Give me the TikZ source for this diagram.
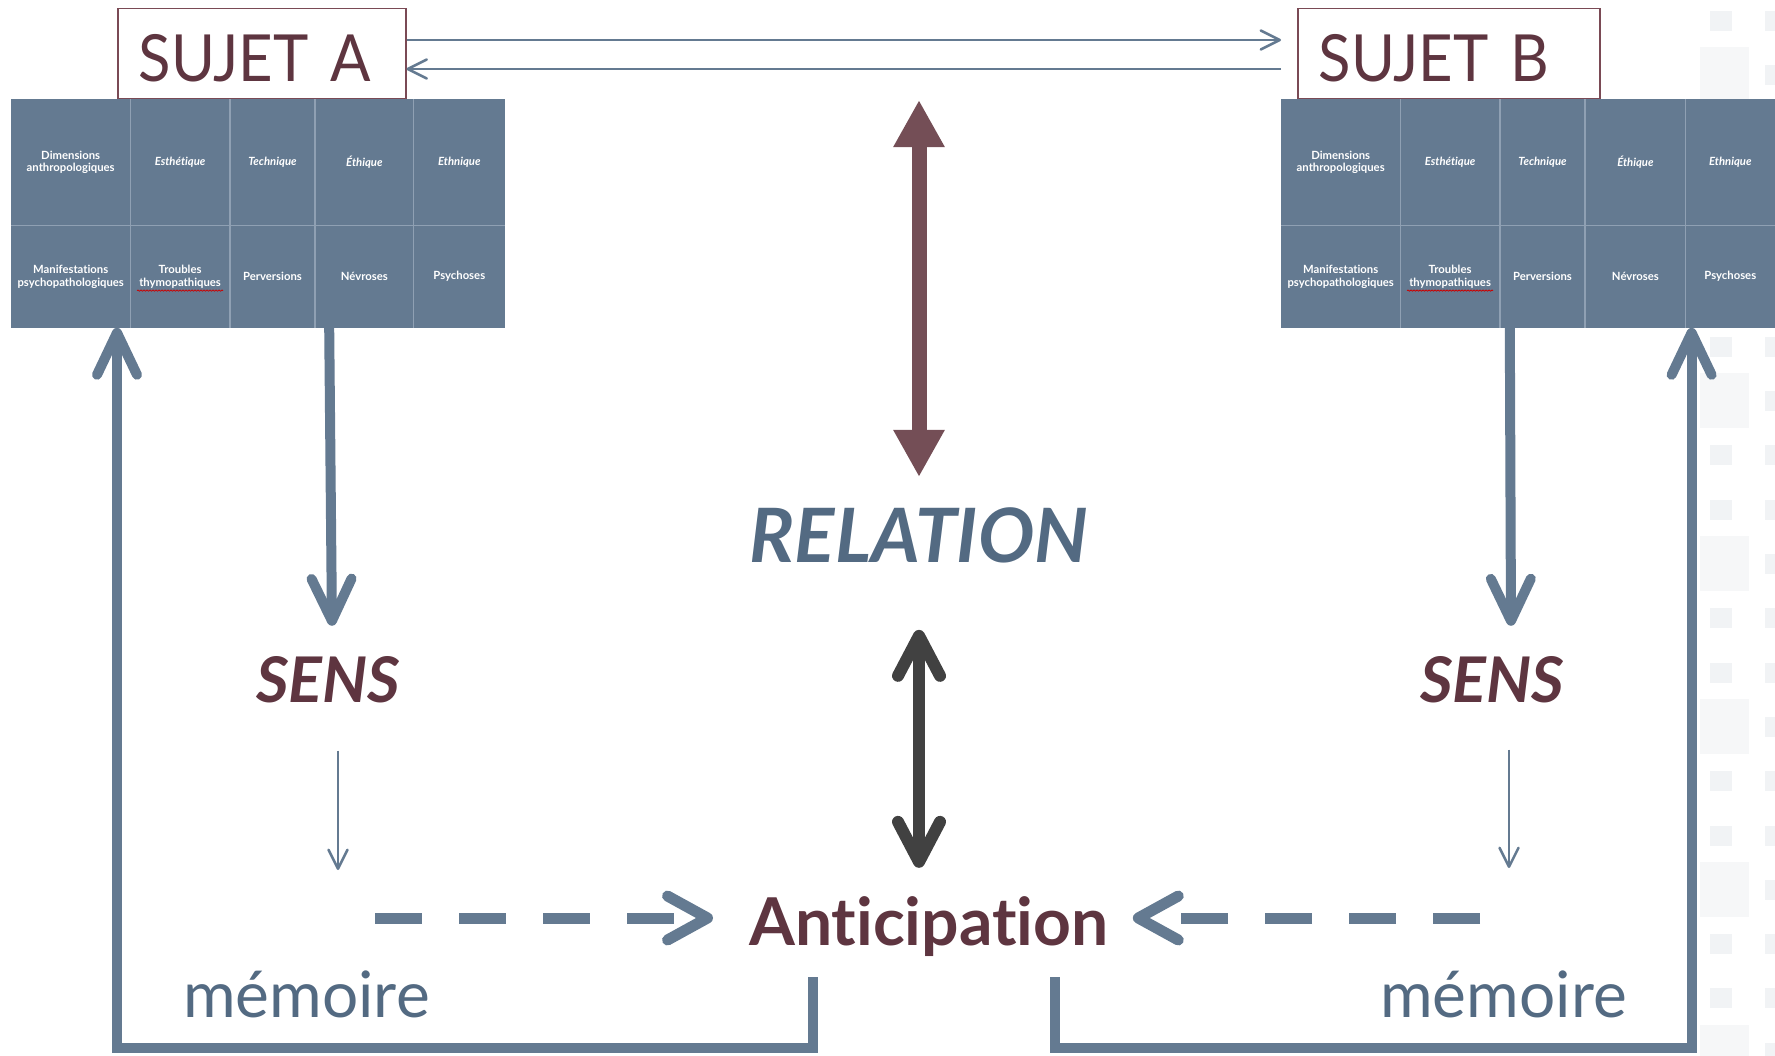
\documentclass[tikz,border=0pt]{standalone}
\usepackage{fontspec}
\setmainfont{Lato}[Ligatures=NoCommon]
\newfontfamily\subjfont{Lato}[FakeStretch=0.92]
\usetikzlibrary{positioning,arrows.meta,decorations.pathmorphing,calc}

\definecolor{slate}{HTML}{647A91}
\definecolor{slatedark}{HTML}{536A82}
\definecolor{slatelight}{HTML}{8FA0B3}
\definecolor{wine}{HTML}{5E3540}
\definecolor{wineline}{HTML}{7A4A55}
\definecolor{winearrow}{HTML}{744E56}
\definecolor{charcoal}{HTML}{414141}

\begin{document}
\begin{tikzpicture}[x=1pt, y=-1pt,
    cell/.style={rectangle, fill=slate, text=white, inner sep=0pt, align=center, minimum height=126pt, font=\fontsize{11.3}{12.5}\selectfont\bfseries},
    lowcell/.style={cell, minimum height=102pt},
    cellrule/.style={draw=slatelight, line width=1.5pt},
    subjectbox/.style={rectangle, draw=wineline, line width=1.5pt, text=wine, inner xsep=21pt, inner ysep=0pt, align=left, minimum height=90pt, text height=56pt, text depth=0pt, anchor=south west, font=\subjfont\fontsize{65}{70}\selectfont},
    keyword/.style={inner sep=0pt, anchor=base, text=wine, font=\fontsize{63}{70}\selectfont\bfseries\itshape},
    memlabel/.style={inner sep=0pt, anchor=base west, text=slatedark, font=\fontsize{64}{70}\selectfont},
    thinarrow/.style={draw=slate, line width=2.5pt, -{Straight Barb[length=19pt, width=19pt, round]}},
    bigarrow/.style={draw=slate, line width=10pt, -{Straight Barb[length=42pt, width=40pt, round]}},
    looparrow/.style={bigarrow, line join=miter},
    dasharrow/.style={draw=slate, line width=11pt, dash pattern=on 47pt off 37pt, -{Straight Barb[length=40pt, width=44pt, round]}},
    relarrow/.style={draw=winearrow, line width=15pt, {Triangle[length=47pt, width=48pt]}-{Triangle[length=47pt, width=48pt]}},
    linkarrow/.style={draw=charcoal, line width=12pt, {Straight Barb[length=40pt, width=42pt, round]}-{Straight Barb[length=40pt, width=42pt, round]}},
    spellmark/.style={draw=red!80!black, line width=0.8pt, decorate, decoration={snake, amplitude=0.6pt, segment length=3pt}},
    tile/.style={fill=slate!9},
    bigtile/.style={fill=slate!6}
  ]
  \useasboundingbox (0,0) rectangle (1775,1055);

  % faint squares along the right border
  \foreach \k in {0,...,19}
    \fill[tile] (1765,{11+54.3*\k}) rectangle (1775,{31+54.3*\k});
  \foreach \k in {1,4,...,19}
    \fill[bigtile] (1700,{-7+54.3*\k}) rectangle (1749,{48+54.3*\k});
  \foreach \k in {0,2,3,5,6,8,9,11,12,14,15,17,18}
    \fill[tile] (1710,{11+54.3*\k}) rectangle (1732,{31+54.3*\k});

  \node[subjectbox, text width=246pt] (tA) at (117,99) {SUJET A};
  \node[subjectbox, text width=260pt] (tB) at (1297,99) {SUJET B};

  % grid of subject A
  \node[cell, minimum width=119pt, anchor=north west] (A11) at (11,99) {Dimensions\\anthropologiques};
  \node[cell, minimum width=99pt, right=0pt of A11] (A12) {\itshape Esthétique};
  \node[cell, minimum width=85pt, right=0pt of A12] (A13) {\itshape Technique};
  \node[cell, minimum width=98pt, right=0pt of A13] (A14) {\itshape Éthique};
  \node[cell, minimum width=91pt, right=0pt of A14] (A15) {\itshape Ethnique};
  \node[lowcell, minimum width=119pt, below=0pt of A11] (A21) {Manifestations\\psychopathologiques};
  \node[lowcell, minimum width=99pt, below=0pt of A12] (A22) {Troubles\\thymopathiques};
  \node[lowcell, minimum width=85pt, below=0pt of A13] (A23) {Perversions};
  \node[lowcell, minimum width=98pt, below=0pt of A14] (A24) {Névroses};
  \node[lowcell, minimum width=91pt, below=0pt of A15] (A25) {Psychoses};

  % grid of subject B
  \node[cell, minimum width=119pt, anchor=north west] (B11) at (1281,99) {Dimensions\\anthropologiques};
  \node[cell, minimum width=99pt, right=0pt of B11] (B12) {\itshape Esthétique};
  \node[cell, minimum width=85pt, right=0pt of B12] (B13) {\itshape Technique};
  \node[cell, minimum width=100pt, right=0pt of B13] (B14) {\itshape Éthique};
  \node[cell, minimum width=89pt, right=0pt of B14] (B15) {\itshape Ethnique};
  \node[lowcell, minimum width=119pt, below=0pt of B11] (B21) {Manifestations\\psychopathologiques};
  \node[lowcell, minimum width=99pt, below=0pt of B12] (B22) {Troubles\\thymopathiques};
  \node[lowcell, minimum width=85pt, below=0pt of B13] (B23) {Perversions};
  \node[lowcell, minimum width=100pt, below=0pt of B14] (B24) {Névroses};
  \node[lowcell, minimum width=89pt, below=0pt of B15] (B25) {Psychoses};

  \foreach \t in {A,B} {
    \foreach \c in {1,...,4}
      \draw[cellrule] (\t1\c.north east) -- (\t2\c.south east);
    \draw[cellrule] (\t11.south west) -- (\t15.south east);
    \draw[spellmark] ($(\t22.center)+(-43,14)$) -- ($(\t22.center)+(43,14)$);
  }

  \node[keyword] (sensA) at (328,702) {SENS};
  \node[keyword] (sensB) at (1492,702) {SENS};
  \node[keyword, text=slatedark, font=\fontsize{75}{80}\selectfont\bfseries\itshape] (relation) at (919,562) {RELATION};
  \node[keyword, anchor=base west, font=\fontsize{66}{70}\selectfont\bfseries] (antic) at (749,945) {Anticipation};
  \node[memlabel] (memA) at (183,1017) {mémoire};
  \node[memlabel] (memB) at (1380,1017) {mémoire};

  \coordinate (reltop) at (919,100);
  \coordinate (relbot) at ([yshift=-67pt]relation.south);
  \coordinate (antop) at (relbot |- antic.north);
  \coordinate (memAin) at (338,870);
  \coordinate (memBin) at (1509,868);
  \coordinate (dashA) at (375,918);
  \coordinate (dashB) at (1480,918);

  \draw[thinarrow] (tA.east |- 0,40) -- (B11.west |- 0,40);
  \draw[thinarrow] (B11.west |- 0,69) -- (tA.east |- 0,69);

  \draw[relarrow] (reltop) -- ([yshift=30pt]relation.north);
  \draw[linkarrow] (relbot) -- ([yshift=28pt]antop);

  \draw[bigarrow] ([xshift=14pt]A24.south west) -- ([xshift=4pt, yshift=30pt]sensA.north);
  \draw[bigarrow] ([xshift=10pt]B23.south west) -- ([xshift=19pt, yshift=30pt]sensB.north);
  \draw[thinarrow] ([xshift=10pt, yshift=-48pt]sensA.south) -- (memAin);
  \draw[thinarrow] ([xshift=17pt, yshift=-47pt]sensB.south) -- (memBin);

  \draw[dasharrow, shorten >=36pt] (dashA) -- (dashA -| antic.base west);
  \draw[dasharrow, shorten >=24pt] (dashB) -- (dashB -| antic.base east);

  \draw[looparrow] ([xshift=64pt, yshift=-32pt]antic.base west) -- ++(0,71) -| (tA.south west |- A21.south);
  \draw[looparrow] ([xshift=-54pt, yshift=-32pt]antic.base east) -- ++(0,71) -| ([xshift=6pt]B25.south west);
\end{tikzpicture}
\end{document}
